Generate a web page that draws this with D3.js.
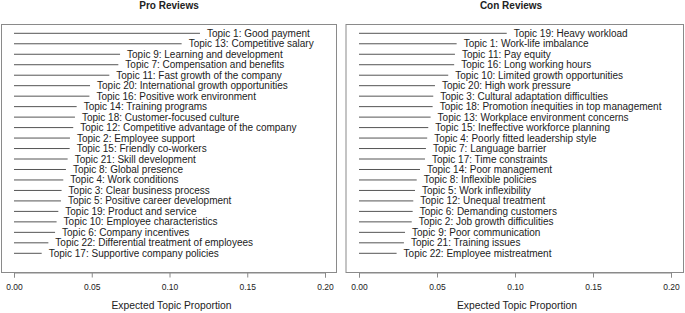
<!DOCTYPE html>
<html>
<head>
<meta charset="utf-8">
<script src="https://cdn.jsdelivr.net/npm/d3@7"></script>
<style>
  body { margin: 0; background: #fff; }
  svg text { font-family: "Liberation Sans", Arial, sans-serif; fill: #222; }
</style>
</head>
<body>
<div id="chart"></div>
<script>
// Pro reviews: topics ordered by expected proportion (largest first)
const proTopics = [
    "Topic 1: Good payment",
    "Topic 13: Competitive salary",
    "Topic 9: Learning and development",
    "Topic 7: Compensation and benefits",
    "Topic 11: Fast growth of the company",
    "Topic 20: International growth opportunities",
    "Topic 16: Positive work environment",
    "Topic 14: Training programs",
    "Topic 18: Customer-focused culture",
    "Topic 12: Competitive advantage of the company",
    "Topic 2: Employee support",
    "Topic 15: Friendly co-workers",
    "Topic 21: Skill development",
    "Topic 8: Global presence",
    "Topic 4: Work conditions",
    "Topic 3: Clear business process",
    "Topic 5: Positive career development",
    "Topic 19: Product and service",
    "Topic 10: Employee characteristics",
    "Topic 6: Company incentives",
    "Topic 22: Differential treatment of employees",
    "Topic 17: Supportive company policies"
];
const proValues = [0.1196, 0.1078, 0.0682, 0.0671, 0.0613, 0.0489, 0.0485, 0.0403, 0.0392, 0.0381, 0.0360,
                   0.0358, 0.0345, 0.0334, 0.0317, 0.0306, 0.0302, 0.0285, 0.0274, 0.0264, 0.0221, 0.0178];

// Con reviews
const conTopics = [
    "Topic 19: Heavy workload",
    "Topic 1: Work-life imbalance",
    "Topic 11: Pay equity",
    "Topic 16: Long working hours",
    "Topic 10: Limited growth opportunities",
    "Topic 20: High work pressure",
    "Topic 3: Cultural adaptation difficulties",
    "Topic 18: Promotion inequities in top management",
    "Topic 13: Workplace environment concerns",
    "Topic 15: Ineffective workforce planning",
    "Topic 4: Poorly fitted leadership style",
    "Topic 7: Language barrier",
    "Topic 17: Time constraints",
    "Topic 14: Poor management",
    "Topic 8: Inflexible policies",
    "Topic 5: Work inflexibility",
    "Topic 12: Unequal treatment",
    "Topic 6: Demanding customers",
    "Topic 2: Job growth difficulities",
    "Topic 9: Poor communication",
    "Topic 21: Training issues",
    "Topic 22: Employee mistreatment"
];
const conValues = [0.0947, 0.0626, 0.0615, 0.0610, 0.0572, 0.0487, 0.0476, 0.0472, 0.0459, 0.0444, 0.0437,
                   0.0429, 0.0423, 0.0391, 0.0370, 0.0359, 0.0348, 0.0344, 0.0338, 0.0295, 0.0288, 0.0241];

const xTicks = [0, 0.05, 0.10, 0.15, 0.20];

const width = 685, height = 313;

const svg = d3.select("#chart").append("svg")
    .attr("width", width)
    .attr("height", height);

// panel layout (box edges and axis range)
const panels = [
    { title: "Pro Reviews", topics: proTopics, values: proValues,
      box: [1.5, 336.5], range: [14, 325], titleX: 169 },
    { title: "Con Reviews", topics: conTopics, values: conValues,
      box: [346, 683.5], range: [359, 671], titleX: 511 }
];

const boxTop = 24.5, boxBottom = 272.5;

panels.forEach(p => {
    const g = svg.append("g");
    const x = d3.scaleLinear().domain([0, 0.2]).range(p.range);
    const y = d3.scalePoint().domain(p.topics).range([33.3, 253.3]);

    // frame
    g.append("rect")
        .attr("x", p.box[0])
        .attr("y", boxTop)
        .attr("width", p.box[1] - p.box[0])
        .attr("height", boxBottom - boxTop)
        .attr("fill", "none")
        .attr("stroke", "#8a8a8a")
        .attr("stroke-width", 1);

    const rows = p.topics.map((t, i) => ({ topic: t, value: p.values[i] }));

    g.selectAll("line.topic")
        .data(rows)
        .join("line")
        .attr("class", "topic")
        .attr("x1", x(0))
        .attr("x2", d => x(d.value))
        .attr("y1", d => y(d.topic))
        .attr("y2", d => y(d.topic))
        .attr("stroke", "#555")
        .attr("stroke-width", 1);

    g.selectAll("text.topic")
        .data(rows)
        .join("text")
        .attr("class", "topic")
        .attr("x", d => x(d.value) + 7)
        .attr("y", d => y(d.topic))
        .attr("dy", "0.35em")
        .style("font-size", "10px")
        .text(d => d.topic);

    // x axis, R style ticks hanging below the frame
    const axis = g.append("g")
        .attr("transform", `translate(0,${boxBottom})`)
        .call(d3.axisBottom(x).tickValues(xTicks).tickFormat(d3.format(".2f")).tickSize(5).tickPadding(6));
    axis.select(".domain").attr("stroke", "#8a8a8a");
    axis.selectAll(".tick line").attr("stroke", "#8a8a8a");
    axis.selectAll(".tick text")
        .style("font-family", "\"Liberation Sans\", Arial, sans-serif")
        .style("font-size", "8.5px")
        .attr("fill", "#222");

    g.append("text")
        .attr("x", (p.range[0] + p.range[1]) / 2 + 2)
        .attr("y", 308.5)
        .attr("text-anchor", "middle")
        .style("font-size", "10.3px")
        .text("Expected Topic Proportion");

    g.append("text")
        .attr("x", p.titleX)
        .attr("y", 8.5)
        .attr("text-anchor", "middle")
        .style("font-size", "10px")
        .style("font-weight", "bold")
        .text(p.title);
});
</script>
</body>
</html>
